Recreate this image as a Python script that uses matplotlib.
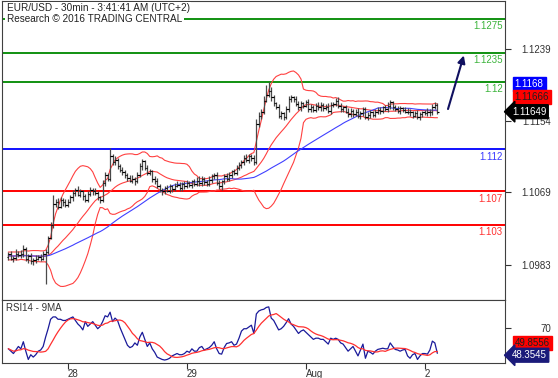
import numpy as np
import pandas as pd
import matplotlib
matplotlib.use('Agg')
import matplotlib.pyplot as plt

# EUR/USD 30min closes, bars before the chart only feed the averages
warmup = [1.0990, 1.0994, 1.0997, 1.0992, 1.0989, 1.0993, 1.0996, 1.0991, 1.0995, 1.0998,
          1.0994, 1.0990, 1.0992, 1.0996, 1.0993, 1.0989, 1.0991, 1.0995, 1.0997, 1.0993,
          1.0990, 1.0994, 1.0992, 1.0996, 1.0995, 1.0991, 1.0993, 1.0997, 1.0994, 1.0992]
close = [1.0995, 1.0990, 1.0991, 1.0996, 1.0994, 1.0996, 1.1001, 1.0990, 1.0993, 1.0987,
         1.0988, 1.0990, 1.0992, 1.0990, 1.0995, 1.0998, 1.1015, 1.1030, 1.1055, 1.1058,
         1.1052, 1.1060, 1.1057, 1.1054, 1.1058, 1.1063, 1.1068, 1.1072, 1.1066, 1.1070,
         1.1064, 1.1060, 1.1067, 1.1072, 1.1070, 1.1068, 1.1063, 1.1060, 1.1080, 1.1090,
         1.1085, 1.1112, 1.1105, 1.1108, 1.1100, 1.1095, 1.1093, 1.1090, 1.1086, 1.1083,
         1.1085, 1.1082, 1.1090, 1.1100, 1.1106, 1.1098, 1.1092, 1.1094, 1.1085, 1.1082,
         1.1076, 1.1072, 1.1070, 1.1074, 1.1071, 1.1076, 1.1073, 1.1077, 1.1078, 1.1074,
         1.1079, 1.1076, 1.1080, 1.1078, 1.1082, 1.1079, 1.1083, 1.1080, 1.1085, 1.1081,
         1.1079, 1.1084, 1.1088, 1.1090, 1.1080, 1.1076, 1.1082, 1.1088, 1.1085, 1.1090,
         1.1094, 1.1092, 1.1098, 1.1102, 1.1105, 1.1110, 1.1107, 1.1112, 1.1110, 1.1105,
         1.1150, 1.1160, 1.1165, 1.1178, 1.1185, 1.1190, 1.1182, 1.1175, 1.1170, 1.1160,
         1.1163, 1.1158, 1.1168, 1.1180, 1.1182, 1.1180, 1.1174, 1.1170, 1.1175, 1.1172,
         1.1176, 1.1168, 1.1171, 1.1167, 1.1172, 1.1170, 1.1173, 1.1169, 1.1171, 1.1166,
         1.1173, 1.1174, 1.1178, 1.1172, 1.1168, 1.1170, 1.1165, 1.1162, 1.1166, 1.1162,
         1.1165, 1.1160, 1.1163, 1.1168, 1.1158, 1.1161, 1.1164, 1.1161, 1.1165, 1.1167,
         1.1166, 1.1170, 1.1168, 1.1172, 1.1176, 1.1170, 1.1168, 1.1166, 1.1169, 1.1167,
         1.1165, 1.1165, 1.1164, 1.1160, 1.1163, 1.1159, 1.1162, 1.1164, 1.1163, 1.1165,
         1.1164, 1.1170, 1.1173, 1.11649]
# wick above / below the body, in pips
wick_up = [3, 4, 2, 5, 3, 4, 5, 3, 2, 4,
           3, 4, 2, 3, 4, 3, 2, 4, 11, 3,
           4, 3, 2, 4, 3, 3, 4, 2, 4, 3,
           2, 3, 4, 3, 2, 4, 3, 2, 4, 3,
           2, 10, 3, 4, 2, 3, 4, 3, 2, 3,
           4, 2, 3, 4, 3, 2, 4, 3, 2, 3,
           4, 3, 2, 3, 4, 3, 2, 3, 4, 3,
           2, 3, 4, 3, 2, 3, 4, 5, 3, 2,
           3, 4, 3, 2, 3, 4, 2, 3, 4, 3,
           2, 3, 4, 3, 2, 3, 4, 3, 2, 3,
           6, 4, 3, 5, 12, 10, 4, 3, 2, 4,
           3, 2, 4, 3, 3, 2, 3, 4, 3, 2,
           3, 4, 3, 2, 3, 4, 3, 2, 3, 4,
           3, 2, 3, 4, 3, 2, 3, 4, 3, 2,
           3, 4, 3, 2, 3, 4, 3, 2, 3, 4,
           3, 2, 3, 4, 3, 2, 3, 4, 3, 2,
           3, 4, 3, 2, 3, 4, 3, 2, 3, 4,
           3, 4, 3, 2]
wick_dn = [3, 2, 4, 3, 2, 3, 4, 3, 5, 3,
           4, 3, 2, 3, 2, 35, 3, 2, 3, 4,
           3, 2, 4, 3, 3, 2, 4, 3, 2, 3,
           4, 3, 2, 3, 4, 2, 3, 4, 2, 3,
           3, 2, 4, 3, 3, 2, 3, 4, 3, 2,
           3, 4, 2, 3, 4, 3, 2, 3, 4, 3,
           2, 3, 4, 3, 2, 3, 4, 3, 2, 3,
           4, 3, 2, 3, 4, 3, 2, 3, 4, 3,
           2, 3, 4, 3, 2, 3, 4, 3, 2, 3,
           4, 3, 2, 3, 4, 3, 2, 3, 4, 3,
           2, 3, 4, 3, 2, 3, 4, 3, 2, 3,
           4, 3, 2, 3, 4, 3, 2, 3, 4, 3,
           2, 3, 4, 3, 2, 3, 4, 3, 2, 3,
           4, 3, 2, 3, 4, 3, 2, 3, 4, 3,
           2, 3, 4, 3, 2, 3, 4, 3, 2, 3,
           4, 3, 2, 3, 4, 3, 2, 3, 4, 3,
           2, 3, 4, 3, 2, 3, 4, 3, 2, 3,
           4, 3, 2, 3]
rsi = [52, 50, 48, 51, 54, 52, 58, 50, 43, 47,
       45, 47, 50, 51, 54, 62, 69, 77, 79, 79,
       77, 77, 76, 76, 77, 78, 79, 76, 73, 71,
       68, 75, 71, 73, 75, 72, 69, 71, 75, 80,
       79, 83, 75, 78, 76, 70, 65, 60, 55, 53,
       54, 57, 55, 62, 66, 60, 54, 57, 52, 49,
       45, 44, 43, 42.5, 43, 44, 46, 47, 48, 47,
       47, 48, 50, 49, 52, 50, 50, 53, 54, 51,
       52, 53, 55, 58, 52, 48, 47.5, 53, 56.5, 57,
       58, 55, 56, 61, 67, 69, 69, 70.5, 72, 65,
       81.5, 84, 85, 85.5, 87, 87.5, 78, 76, 72, 68,
       69, 71, 74, 77.5, 73, 71, 68, 65, 67, 68,
       66, 64, 62, 60, 61, 61, 60, 60, 58, 56,
       61, 60, 61, 60, 57, 56, 53, 50, 52, 54,
       50, 46, 51, 56, 44, 50, 49, 47.5, 50, 51.5,
       52, 52.5, 52, 52, 57, 54, 51.5, 51, 50, 51,
       51.5, 46, 44, 47, 48, 43, 46, 48, 48, 47.5,
       51, 58.5, 57, 48.35]

lev_green = [1.1275, 1.1235, 1.12]
lev_blue = [1.112]
lev_red = [1.107, 1.103]
target = 1.1235
price_ticks = [1.0983, 1.1069, 1.1154, 1.1239]
day_idx = [24, 72, 120, 168]
day_lbl = ['28', '29', 'Aug', '2']
price_boxes = ['1.1168', '1.11666', '1.11649']
rsi_boxes = ['49.8556', '48.3545']

plt.rcParams['font.family'] = ['Liberation Sans', 'DejaVu Sans']

fig = plt.figure(figsize=(5.58, 3.78), dpi=100)
ax = fig.add_axes([0.0036, 0.2063, 0.9014, 0.7910])
ax2 = fig.add_axes([0.0036, 0.0397, 0.9014, 0.1666])

n = len(close)
idx = np.arange(n)
c = np.array(close)
op = np.r_[warmup[-1], c[:-1]]
hi = np.maximum(op, c) + np.array(wick_up) * 1e-4
lo = np.minimum(op, c) - np.array(wick_dn) * 1e-4

# bollinger 20/2 and 50 sma
s = pd.Series(warmup + close)
k = len(warmup)
mid = s.rolling(20, min_periods=1).mean()
sd = s.rolling(20, min_periods=1).std(ddof=0)
ma50 = s.rolling(50, min_periods=1).mean()

# levels
for vals, lc, tc in [(lev_green, '#109010', '#3cb43c'), (lev_blue, '#1010ff', '#3a3aff'),
                     (lev_red, '#ff0000', '#ff3030')]:
    for v in vals:
        ax.axhline(v, color=lc, lw=1.4, zorder=1)
        ax.annotate(str(v), xy=(1.0, v), xycoords=('axes fraction', 'data'),
                    xytext=(-1.5, -1.5), textcoords='offset points',
                    ha='right', va='top', color=tc, fontsize=7)

ax.plot(idx, (mid + 2 * sd).values[k:], color='#ff4040', lw=0.8, zorder=2)
ax.plot(idx, mid.values[k:], color='#ff4040', lw=0.8, zorder=2)
ax.plot(idx, (mid - 2 * sd).values[k:], color='#ff4040', lw=0.8, zorder=2)
ax.plot(idx, ma50.values[k:], color='#4040ff', lw=0.8, zorder=2)

ax.vlines(idx, lo, hi, color='#4a4a4a', lw=0.9, zorder=3)
ax.hlines(op, idx - 0.6, idx, color='black', lw=0.8, zorder=3)
ax.hlines(c, idx, idx + 0.6, color='black', lw=0.8, zorder=3)

ax.annotate('', xy=(n + 10, target), xytext=(n + 3, c[-1]),
            arrowprops=dict(arrowstyle='-|>', color='#101060', lw=1.5, mutation_scale=11))

ax.set_xlim(-2.6, 200.3)
ax.set_ylim(1.09408, 1.12966)
ax.set_xticks([])
ax.yaxis.tick_right()
ax.set_yticks(price_ticks)
ax.set_yticklabels([f'{t:.4f}' for t in price_ticks], ha='right')
ax.tick_params(axis='y', labelsize=7, labelcolor='#333333', color='#333333', length=4, pad=29)

# value boxes on the right
box_style = [('#0000ff', 'white', 'square', 20), ('#ff0000', '#202020', 'square', 10.5),
             ('black', 'white', 'larrow', 0)]
for lab, (fc, tc, bs, dy) in zip(price_boxes, box_style):
    ax.annotate(lab, xy=(1.0, c[-1]), xycoords=('axes fraction', 'data'),
                xytext=(7 if bs == 'square' else 5, dy), textcoords='offset points',
                ha='left', va='center', color=tc, fontsize=7, annotation_clip=False,
                bbox=dict(boxstyle=bs + ',pad=0.2', fc=fc, ec=fc))

# rsi panel
rsi_ma = pd.Series(rsi).rolling(9, min_periods=1).mean()
ax2.plot(idx, rsi, color='#1a1a9a', lw=0.9)
ax2.plot(idx, rsi_ma, color='#ff3030', lw=0.9)
ax2.set_xlim(-2.6, 200.3)
ax2.set_ylim(40, 93.3)
ax2.yaxis.tick_right()
ax2.set_yticks([70])
ax2.set_yticklabels(['70'], ha='right')
ax2.tick_params(axis='y', labelsize=7, labelcolor='#333333', color='#333333', length=4, pad=29)
ax2.set_xticks(day_idx)
ax2.set_xticklabels(day_lbl, ha='left')
ax2.tick_params(axis='x', labelsize=7, labelcolor='#333333', color='#333333', length=4, pad=0)
ax2.text(0.008, 0.95, 'RSI14 - 9MA', transform=ax2.transAxes, fontsize=7, color='#333333', va='top')

for lab, (fc, tc, bs, dy) in zip(rsi_boxes, [('#ff0000', '#202020', 'square', 7.5),
                                             ('#1a1a7a', 'white', 'larrow', -1.5)]):
    ax2.annotate(lab, xy=(1.0, rsi[-1]), xycoords=('axes fraction', 'data'),
                 xytext=(7 if bs == 'square' else 5, dy), textcoords='offset points',
                 ha='left', va='center', color=tc, fontsize=7, annotation_clip=False,
                 bbox=dict(boxstyle=bs + ',pad=0.2', fc=fc, ec=fc))

for a in (ax, ax2):
    for sp in a.spines.values():
        sp.set_color('#404040')
        sp.set_linewidth(0.8)

fig.text(7 / 558, 1 - 8 / 378, 'EUR/USD - 30min - 3:41:41 AM (UTC+2)', fontsize=7.2,
         color='#222222', va='center', bbox=dict(fc='white', ec='none', pad=0.5))
fig.text(7 / 558, 1 - 18.5 / 378, 'Research \u00a9 2016 TRADING CENTRAL', fontsize=7.2,
         color='#222222', va='center', bbox=dict(fc='white', ec='none', pad=1.2))

fig.savefig('out.png', dpi=100)
